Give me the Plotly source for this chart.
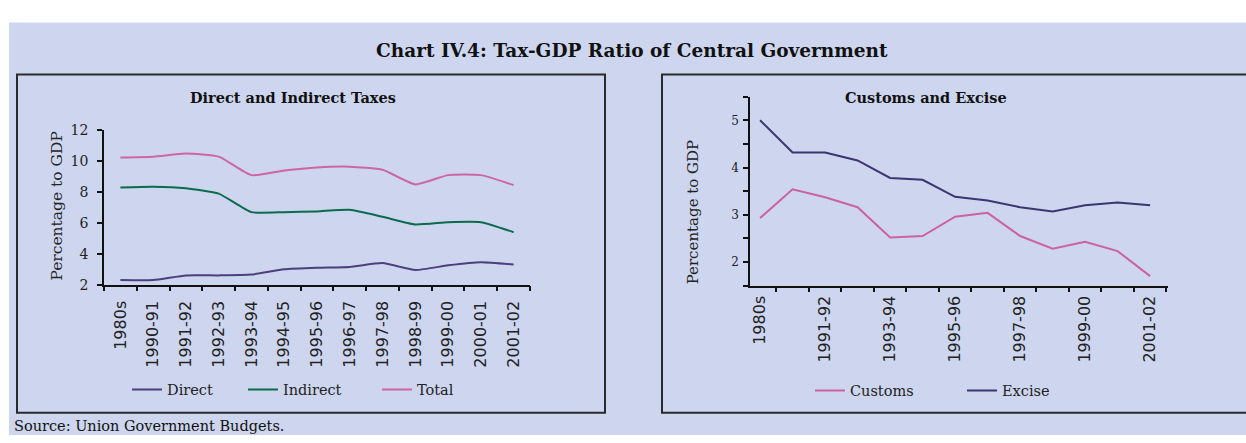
import plotly.graph_objects as go

W, H = 1246, 443

# ---- data -------------------------------------------------------------
years = ["1980s", "1990-91", "1991-92", "1992-93", "1993-94", "1994-95",
         "1995-96", "1996-97", "1997-98", "1998-99", "1999-00", "2000-01",
         "2001-02"]

direct = [2.3, 2.3, 2.6, 2.6, 2.65, 3.0, 3.1, 3.15, 3.4, 2.95, 3.25, 3.45, 3.3]
indirect = [8.3, 8.35, 8.25, 7.9, 6.7, 6.7, 6.75, 6.85, 6.4, 5.9, 6.05, 6.05, 5.4]
total = [10.25, 10.3, 10.5, 10.3, 9.1, 9.4, 9.6, 9.65, 9.45, 8.5, 9.1, 9.1, 8.45]

customs = [2.93, 3.54, 3.37, 3.16, 2.52, 2.55, 2.96, 3.04, 2.55, 2.28, 2.43, 2.23, 1.70]
excise = [5.0, 4.32, 4.32, 4.15, 3.78, 3.74, 3.38, 3.30, 3.16, 3.07, 3.2, 3.26, 3.2]

left_yticks = [2, 4, 6, 8, 10, 12]
right_yticks = [1.5, 2, 2.5, 3, 3.5, 4, 4.5, 5, 5.5]
right_yticktext = ["", "2", "", "3", "", "4", "", "5", ""]
right_xlabels = years[::2]

# ---- colours / fonts ----------------------------------------------------
BG = "#CDD6EE"
C_DIRECT = "#4B3F80"
C_INDIRECT = "#0C6A4D"
C_TOTAL = "#CC67A0"
C_CUSTOMS = "#CC62A0"
C_EXCISE = "#3B3572"
SERIF = "DejaVu Serif"
SANS = "DejaVu Sans"


def px(x):
    return x / W


def py(y):
    return 1 - y / H


idx = list(range(len(years)))

fig = go.Figure()

# left panel: direct / indirect / total
for name, vals, col, lg in [("Direct", direct, C_DIRECT, "legend"),
                            ("Indirect", indirect, C_INDIRECT, "legend2"),
                            ("Total", total, C_TOTAL, "legend3")]:
    fig.add_trace(go.Scatter(x=idx, y=vals, name=name, mode="lines",
                             line=dict(color=col, width=2, shape="spline", smoothing=0.5),
                             xaxis="x", yaxis="y", legend=lg))

# right panel: customs / excise
for name, vals, col, lg in [("Customs", customs, C_CUSTOMS, "legend4"),
                            ("Excise", excise, C_EXCISE, "legend5")]:
    fig.add_trace(go.Scatter(x=idx, y=vals, name=name, mode="lines",
                             line=dict(color=col, width=2),
                             xaxis="x2", yaxis="y2", legend=lg))

line_style = dict(showgrid=False, zeroline=False, showline=True,
                  linecolor="#111111", linewidth=1.5, tickcolor="#111111",
                  tickwidth=1.5)
minor_ticks = dict(ticks="outside", tick0=-0.5, dtick=1, ticklen=5,
                   tickcolor="#111111", tickwidth=1.5, showgrid=False)

fig.update_layout(
    width=W, height=H,
    margin=dict(l=0, r=0, t=0, b=0),
    paper_bgcolor="white",
    plot_bgcolor="rgba(0,0,0,0)",
    showlegend=True,
    xaxis=dict(domain=[px(104), px(530)], range=[-0.5, 12.5], anchor="y",
               tickmode="array", tickvals=idx, ticktext=years, tickangle=-90,
               tickfont=dict(family=SANS, size=16, color="#222222"),
               ticks="", minor=minor_ticks, ticklabelstandoff=8, **line_style),
    yaxis=dict(domain=[py(287), py(127)], range=[2, 12], anchor="x",
               tickmode="array", tickvals=left_yticks,
               tickfont=dict(family=SERIF, size=14, color="#222222"),
               ticks="outside", ticklen=5, ticklabelstandoff=6, **line_style),
    xaxis2=dict(domain=[px(750), px(1168)], range=[-0.31, 12.55], anchor="y2",
                tickmode="array", tickvals=idx[::2], ticktext=right_xlabels,
                tickangle=-90,
                tickfont=dict(family=SANS, size=16, color="#222222"),
                ticks="", minor=minor_ticks, ticklabelstandoff=2, **line_style),
    yaxis2=dict(domain=[py(288), py(92)], range=[1.5, 5.5], anchor="x2",
                tickmode="array", tickvals=right_yticks, ticktext=right_yticktext,
                tickfont=dict(family=SERIF, size=12, color="#222222"),
                ticks="outside", ticklen=5, ticklabelstandoff=2, **line_style),
)

legend_style = dict(orientation="h", xanchor="left", yanchor="middle",
                    bgcolor="rgba(0,0,0,0)", borderwidth=0,
                    font=dict(family=SERIF, size=14.5, color="#222222"))
fig.update_layout(
    legend=dict(x=px(127), y=py(396), **legend_style),
    legend2=dict(x=px(243), y=py(396), **legend_style),
    legend3=dict(x=px(377), y=py(396), **legend_style),
    legend4=dict(x=px(810), y=py(397), **legend_style),
    legend5=dict(x=px(962), y=py(397), **legend_style),
)

# background panel and frames
shapes = [
    dict(type="rect", xref="paper", yref="paper", x0=px(9), x1=1, y0=0, y1=py(15),
         fillcolor=BG, line=dict(width=0), layer="below"),
    dict(type="rect", xref="paper", yref="paper", x0=px(17), x1=px(605),
         y0=py(420), y1=py(69), line=dict(color="#2a2a2a", width=2), layer="below"),
    dict(type="rect", xref="paper", yref="paper", x0=px(662), x1=px(1260),
         y0=py(420), y1=py(69), line=dict(color="#2a2a2a", width=2), layer="below"),
]
fig.update_layout(shapes=shapes)

annotations = [
    dict(text="<b>Chart IV.4: Tax-GDP Ratio of Central Government</b>",
         x=px(632), y=py(44), font=dict(family=SERIF, size=18.5, color="#111111")),
    dict(text="<b>Direct and Indirect Taxes</b>", x=px(293), y=py(93),
         font=dict(family=SERIF, size=14.5, color="#111111")),
    dict(text="<b>Customs and Excise</b>", x=px(926), y=py(93),
         font=dict(family=SERIF, size=14.5, color="#111111")),
    dict(text="Percentage to GDP", x=px(57), y=py(206), textangle=-90,
         font=dict(family=SERIF, size=15.5, color="#222222")),
    dict(text="Percentage to GDP", x=px(693), y=py(212), textangle=-90,
         font=dict(family=SERIF, size=15, color="#222222")),
    dict(text="Source: Union Government Budgets.", x=px(12), y=py(434),
         xanchor="left", font=dict(family=SERIF, size=14.5, color="#111111")),
]
for a in annotations:
    a.setdefault("xanchor", "center")
    a.update(xref="paper", yref="paper", yanchor="middle", showarrow=False)
fig.update_layout(annotations=annotations)

fig.write_html("out.html")
